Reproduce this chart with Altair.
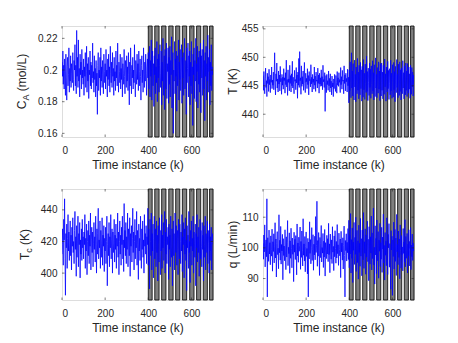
import altair as alt
import pandas as pd

# ---------------- data ----------------
ca = [
0.205,0.196,0.212,0.191,0.203,0.188,0.207,0.199,0.184,0.210,0.195,0.181,0.202,0.208,0.190,0.197,0.214,0.186,0.201,0.193,0.209,0.189,0.204,0.198,0.192,
0.211,0.194,0.187,0.206,0.200,0.216,0.190,0.203,0.185,0.225,0.196,0.208,0.189,0.219,0.193,0.201,0.183,0.210,0.197,0.205,0.188,0.213,0.195,0.200,0.191,
0.207,0.184,0.202,0.196,0.211,0.189,0.199,0.215,0.186,0.204,0.193,0.208,0.182,0.200,0.197,0.212,0.190,0.205,0.188,0.203,0.195,0.217,0.192,0.199,0.186,
0.209,0.194,0.201,0.183,0.206,0.190,0.198,0.172,0.203,0.211,0.187,0.200,0.195,0.208,0.184,0.214,0.193,0.202,0.189,0.206,0.197,0.185,0.210,0.199,0.192,
0.204,0.188,0.213,0.196,0.200,0.183,0.207,0.194,0.210,0.190,0.202,0.186,0.215,0.198,0.192,0.205,0.189,0.211,0.196,0.201,0.184,0.208,0.193,0.199,0.187,
0.212,0.195,0.203,0.190,0.217,0.197,0.186,0.205,0.199,0.192,0.210,0.188,0.201,0.194,0.208,0.183,0.204,0.198,0.191,0.213,0.196,0.185,0.206,0.200,0.189,
0.209,0.193,0.202,0.187,0.211,0.197,0.178,0.205,0.190,0.214,0.199,0.185,0.203,0.195,0.208,0.188,0.200,0.192,0.216,0.196,0.183,0.206,0.198,0.191,0.210,
0.194,0.204,0.187,0.212,0.199,0.190,0.207,0.196,0.181,0.203,0.209,0.192,0.200,0.186,0.214,0.197,0.189,0.205,0.193,0.210,0.198,0.184,0.202,0.207,0.195,
0.211,0.188,0.203,0.215,0.183,0.206,0.196,0.219,0.181,0.200,0.212,0.190,0.204,0.177,0.209,0.197,0.214,0.185,0.202,0.192,0.218,0.180,0.207,0.195,0.210,
0.186,0.203,0.216,0.189,0.198,0.212,0.178,0.205,0.193,0.220,0.184,0.201,0.209,0.175,0.213,0.196,0.188,0.217,0.182,0.204,0.199,0.214,0.179,0.208,0.191,
0.215,0.183,0.206,0.197,0.221,0.176,0.203,0.211,0.160,0.200,0.193,0.218,0.185,0.207,0.196,0.212,0.174,0.209,0.190,0.202,0.219,0.181,0.205,0.194,0.213,
0.187,0.200,0.216,0.179,0.208,0.195,0.211,0.184,0.203,0.220,0.188,0.198,0.206,0.172,0.214,0.192,0.201,0.217,0.183,0.209,0.196,0.212,0.178,0.205,0.190,
0.218,0.185,0.202,0.165,0.210,0.197,0.214,0.182,0.206,0.193,0.220,0.180,0.204,0.199,0.215,0.176,0.208,0.191,0.212,0.186,0.203,0.217,0.173,0.209,0.195,
0.213,0.184,0.201,0.219,0.188,0.206,0.168,0.211,0.196,0.215,0.181,0.204,0.193,0.222,0.186,0.208,0.199,0.213,0.178,0.205,0.190,0.216,0.187,0.202,0.197,
0.200]

temp = [
446.8,444.2,447.5,445.0,443.6,446.3,448.1,444.7,445.9,443.1,447.2,445.4,446.6,444.0,447.9,445.2,446.1,443.8,446.9,445.6,448.3,444.5,446.0,445.1,447.4,
444.3,446.7,450.8,445.5,443.4,447.1,445.8,449.0,444.6,446.2,443.9,447.6,445.3,446.9,444.1,448.4,445.7,446.3,443.5,447.0,445.1,446.5,444.4,448.0,445.9,
446.4,443.7,447.3,445.2,449.5,444.8,446.1,443.3,447.8,445.6,446.2,444.1,448.6,445.4,446.8,443.9,447.1,445.0,449.3,444.6,446.5,445.2,443.6,447.7,445.8,
446.1,444.3,448.2,445.5,446.9,442.8,447.4,445.1,449.8,444.7,451.0,445.9,446.4,443.5,448.5,444.9,446.6,445.3,447.6,444.2,446.0,449.1,445.4,443.8,447.2,
445.7,446.3,444.5,448.0,445.2,446.8,443.4,447.5,445.9,446.1,444.8,448.7,445.3,446.5,443.9,447.0,445.6,446.2,444.4,448.3,445.1,446.7,444.0,447.4,445.8,
446.0,444.6,448.1,445.4,446.9,443.7,447.2,445.3,446.4,444.9,447.8,445.0,446.6,444.3,448.6,445.7,446.1,444.7,447.3,440.5,445.5,446.8,443.8,447.0,445.2,
445.9,444.2,447.6,445.0,446.3,443.9,447.1,444.6,445.8,443.4,446.7,444.8,445.5,443.1,446.2,444.5,447.0,445.3,444.0,446.8,445.6,443.7,447.5,445.1,446.4,
444.9,447.3,445.6,446.1,443.8,448.2,445.2,446.6,444.4,447.7,445.8,446.0,443.6,448.5,445.4,446.9,444.1,447.2,445.7,446.3,443.9,447.9,445.0,446.5,442.0,
447.8,444.1,449.2,445.5,442.9,450.8,444.6,447.6,443.2,448.9,445.3,442.5,449.5,444.8,447.0,442.2,448.3,445.7,443.6,449.8,444.2,447.4,442.7,448.6,445.1,
443.4,449.1,444.5,447.8,442.3,448.4,445.9,443.0,449.6,444.3,447.2,442.6,448.8,445.4,443.8,450.2,444.0,447.5,442.4,448.1,445.6,443.3,449.0,444.7,447.9,
442.8,448.5,445.2,443.6,449.4,444.1,447.3,442.5,448.7,445.8,443.1,449.9,444.6,447.0,442.9,448.2,445.3,443.7,449.2,444.4,447.6,442.4,448.9,445.5,443.2,
449.0,444.2,447.4,442.7,448.6,445.9,443.5,449.7,444.8,447.1,442.3,448.3,445.0,443.9,449.3,444.5,447.7,442.6,448.0,445.4,443.4,449.5,444.1,447.2,442.8,
448.7,445.6,443.0,449.1,444.3,447.5,442.2,448.4,445.1,443.8,449.6,444.7,447.0,442.9,448.8,445.3,443.3,449.2,444.0,447.8,442.5,448.1,445.7,443.6,449.4,
444.6,447.3,442.7,448.5,445.2,443.4,449.0,444.2,447.6,443.1,448.9,445.5,443.7,448.3,444.4,447.1,442.8,448.6,445.0,443.5,448.2,444.8,447.4,443.2,446.9,
445.4]

tc = [
412,428,418,405,434,421,447,409,386,425,416,431,403,422,437,414,426,408,419,433,411,424,402,429,417,
435,413,420,406,427,439,415,423,398,430,410,419,436,404,425,418,432,397,421,412,428,408,434,416,423,
409,426,418,437,403,422,414,431,399,420,427,411,433,406,424,417,438,402,421,429,413,426,404,419,432,
415,423,407,436,418,400,428,412,425,441,409,421,416,433,403,427,419,410,435,405,424,417,430,401,422,
414,429,406,420,436,392,418,425,411,432,404,423,416,437,409,421,428,400,426,413,419,434,407,424,415,
431,403,422,417,438,410,426,399,420,433,412,424,405,429,418,436,409,421,401,444,416,427,411,432,406,
423,415,438,404,428,419,411,435,398,425,417,430,407,422,441,413,426,402,420,434,409,424,416,439,405,
427,418,396,431,414,422,408,436,419,403,428,415,433,410,421,400,437,417,425,412,430,406,423,418,441,
405,428,416,390,434,420,411,438,402,425,414,431,397,422,436,409,419,428,404,433,413,424,395,430,418,
407,435,421,399,427,414,437,403,424,416,432,408,420,439,400,426,412,434,406,423,418,429,396,431,415,
424,404,436,417,410,428,392,421,433,411,425,402,438,419,413,430,405,422,427,399,434,416,409,431,420,
406,426,414,437,401,423,418,432,397,428,412,435,408,421,389,430,416,424,403,439,413,420,394,427,417,
433,405,422,414,436,400,426,419,410,431,392,425,416,437,407,423,413,429,398,421,434,409,427,417,404,
432,415,424,395,430,418,410,436,402,425,421,413,433,406,427,419,400,431,414,423,408,429,402,420,425,
418]

q = [
101.5,96.3,104.2,98.7,107.5,93.8,100.9,102.6,97.1,116.0,84.0,103.3,99.2,95.6,105.8,98.0,101.7,94.5,103.9,99.5,97.3,106.1,92.4,102.0,98.8,
104.6,95.1,100.3,108.2,96.7,102.9,90.5,101.4,105.3,97.8,99.9,93.2,110.8,98.4,102.5,96.0,107.0,94.7,101.1,99.0,104.4,89.6,103.0,97.5,100.6,
95.8,105.9,99.3,92.9,103.6,97.0,101.8,108.9,94.2,100.2,98.1,104.9,91.7,102.3,96.6,106.4,99.7,93.5,103.2,97.9,101.0,89.0,105.1,98.6,102.8,
96.2,104.0,99.4,91.2,107.8,97.4,101.6,95.3,103.5,98.9,100.7,106.8,93.0,102.1,96.9,105.5,99.1,94.1,109.5,97.6,101.3,95.7,103.7,92.2,100.4,
105.2,97.2,99.8,91.5,103.1,84.0,101.9,96.4,108.5,98.2,102.7,94.8,100.0,106.6,95.9,99.6,104.3,92.7,101.2,97.7,103.8,96.1,110.2,98.5,100.8,
115.2,94.0,102.4,97.3,105.0,99.2,91.0,103.4,96.8,101.5,107.3,95.4,100.1,98.3,104.7,93.6,102.2,97.0,106.0,90.8,101.7,99.4,96.5,104.1,98.0,
103.0,95.5,108.0,97.8,101.3,91.9,104.5,99.0,96.3,102.6,94.9,106.9,98.6,100.5,92.6,103.9,97.1,105.6,99.8,95.0,102.1,96.7,107.6,98.1,101.0,
94.3,104.8,99.5,97.4,102.9,90.3,105.4,98.7,101.6,96.0,103.3,93.1,100.7,107.1,97.5,84.0,102.4,99.1,104.6,95.7,101.8,98.4,106.3,96.2,109.0,
93.5,104.1,98.0,111.2,91.8,102.7,96.6,106.5,88.7,101.9,99.2,108.3,94.6,103.4,97.9,110.0,92.3,100.6,105.7,95.2,102.3,89.8,107.4,98.5,101.5,
94.0,109.6,97.3,103.0,90.9,105.8,99.4,96.1,111.5,93.3,102.0,98.2,106.2,91.4,104.2,97.0,100.9,108.7,95.5,102.8,89.3,106.9,99.7,94.7,103.6,
98.3,110.4,92.8,104.9,96.5,101.3,113.0,94.4,100.2,88.2,107.2,97.7,103.1,91.6,109.1,99.0,95.8,105.3,90.1,102.5,98.9,108.0,93.9,101.7,96.3,
106.7,92.0,103.5,99.6,111.0,95.1,100.8,89.5,105.0,97.6,102.2,94.2,109.8,98.1,91.3,104.4,100.0,107.9,93.7,101.4,96.8,86.5,105.6,99.3,103.8,
84.5,102.6,97.2,108.4,93.1,100.5,106.0,95.6,103.2,91.0,110.9,98.7,101.1,94.5,105.5,96.9,102.9,89.9,107.5,99.1,93.4,104.0,97.8,100.3,92.5,
106.3,98.2,101.9,95.3,109.2,93.8,103.7,99.5,96.6,104.7,91.8,101.2,97.4,105.9,94.1,102.1,99.8,106.6,92.9,100.9,97.1,104.5,95.9,101.6,99.0,
100.5]

stripe_start = [400, 430, 462, 495, 527, 558, 592, 624, 655, 684]
stripe_end   = [418, 450, 482, 515, 546, 578, 612, 643, 674, 700]

x_ticks = [0, 200, 400, 600]
x_title = "Time instance (k)"

# ---------------- style ----------------
W, H = 151, 111
AX = "#262626"
FONT = "Liberation Sans"
TL = 2.5


def panel(vals, dom, yticks, yfmt, label_parts):
    df = pd.DataFrame({"k": [2 * i for i in range(len(vals))], "v": vals})
    xs = alt.Scale(domain=[0, 700], nice=False, zero=False)
    ys = alt.Scale(domain=dom, nice=False, zero=False)
    xaxis = alt.Axis(values=x_ticks, ticks=False, domain=False, grid=False,
                     labelFont=FONT, labelFontSize=10, labelColor=AX, labelPadding=8,
                     title=x_title, titleFont=FONT, titleFontSize=12,
                     titleFontWeight="normal", titleColor=AX, titlePadding=4)
    yaxis = alt.Axis(values=yticks, format=yfmt, ticks=False, domain=False, grid=False,
                     labelFont=FONT, labelFontSize=10, labelColor=AX, labelPadding=5,
                     title="")

    stripes = alt.Chart(pd.DataFrame({"s": stripe_start, "e": stripe_end})).mark_rect(
        fill="#7f7f7f", stroke="#000000", strokeWidth=0.8
    ).encode(
        x=alt.X("s:Q", scale=xs, axis=xaxis), x2="e:Q",
        y=alt.value(0), y2=alt.value(H)
    )
    line = alt.Chart(df).mark_line(color="#0000ff", strokeWidth=0.75, clip=True).encode(
        x=alt.X("k:Q", scale=xs, axis=xaxis),
        y=alt.Y("v:Q", scale=ys, axis=yaxis)
    )
    ydf = pd.DataFrame({"t": yticks})
    xdf = pd.DataFrame({"t": x_ticks})
    yl = alt.Chart(ydf).mark_rule(color=AX, strokeWidth=0.6).encode(
        y=alt.Y("t:Q", scale=ys, axis=yaxis), x=alt.value(0), x2=alt.value(TL))
    yr = alt.Chart(ydf).mark_rule(color=AX, strokeWidth=0.6).encode(
        y=alt.Y("t:Q", scale=ys, axis=yaxis), x=alt.value(W - TL), x2=alt.value(W))
    xb = alt.Chart(xdf).mark_rule(color=AX, strokeWidth=0.6).encode(
        x=alt.X("t:Q", scale=xs, axis=xaxis), y=alt.value(H - TL), y2=alt.value(H))
    xt = alt.Chart(xdf).mark_rule(color=AX, strokeWidth=0.6).encode(
        x=alt.X("t:Q", scale=xs, axis=xaxis), y=alt.value(0), y2=alt.value(TL))

    layers = [stripes, line, yl, yr, xb, xt]
    for text, size, px, py, align in label_parts:
        layers.append(
            alt.Chart(pd.DataFrame({"t": [text]})).mark_text(
                angle=270, align=align, baseline="middle", fontSize=size,
                font=FONT, color=AX
            ).encode(text="t:N", x=alt.value(px), y=alt.value(py))
        )
    return alt.layer(*layers).properties(width=W, height=H)


p1 = panel(ca, [0.1577, 0.2278], [0.16, 0.18, 0.2, 0.22], ".2~f",
           [("C", 12, -40, 83.2, "left"), ("A", 9, -36.5, 74.5, "left"),
            ("(mol/L)", 12, -40, 65.2, "left")])
p2 = panel(temp, [436.0, 455.5], [440, 445, 450, 455], "d",
           [("T (K)", 12, -30, 55.5, "center")])
p3 = panel(tc, [383.0, 453.2], [400, 420, 440], "d",
           [("T", 12, -37, 71.1, "left"), ("c", 9, -33.5, 63.8, "left"),
            ("(K)", 12, -37, 56.0, "left")])
p4 = panel(q, [83.0, 119.2], [90, 100, 110], "d",
           [("q (L/min)", 12, -30, 55.5, "center")])

chart = alt.concat(
    p1, p2, p3, p4, columns=2,
    spacing={"row": 52, "column": 50}, bounds="flush"
).properties(
    padding={"left": 7, "top": 15, "right": 5, "bottom": 5}
).configure_view(
    stroke=AX, strokeWidth=0.8
).configure(background="white")

chart.save("out.html", embed_options={"renderer": "svg", "actions": False})
